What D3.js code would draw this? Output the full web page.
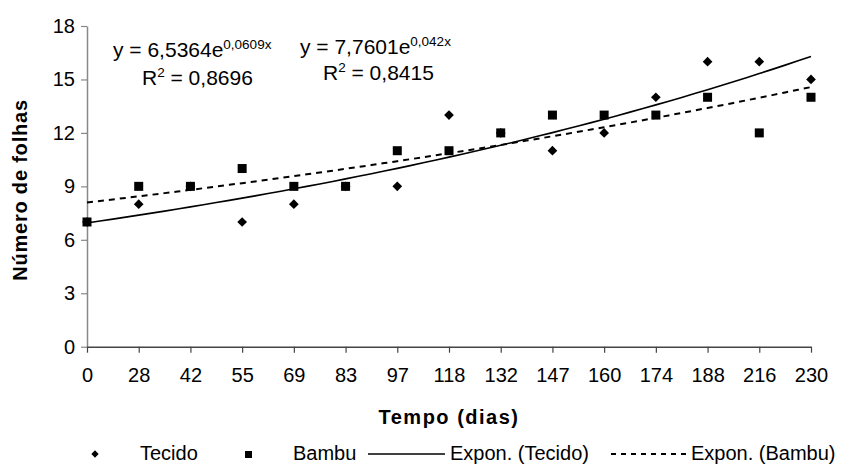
<!DOCTYPE html>
<html>
<head>
<meta charset="utf-8">
<script src="https://cdn.jsdelivr.net/npm/d3@7"></script>
<style>
  body { margin: 0; background: #fff; }
  svg { display: block; font-family: Arial, "Liberation Sans", sans-serif; }
</style>
</head>
<body>
<svg id="chart" width="846" height="465"></svg>
<script>
// dias de avaliação (categorias do eixo x)
let dias = ["0", "28", "42", "55", "69", "83", "97", "118", "132", "147", "160", "174", "188", "216", "230"];
let tecido = [7, 8, 9, 7, 8, 9, 9, 13, 12, 11, 12, 14, 16, 16, 15];
let bambu = [7, 9, 9, 10, 9, 9, 11, 11, 12, 13, 13, 13, 14, 12, 14];
let yTicks = [0, 3, 6, 9, 12, 15, 18];

let svg = d3.select("#chart");
let font = 'Arial, "Liberation Sans", sans-serif';

let x = d3.scalePoint().domain(dias).range([87, 811]);
let y = d3.scaleLinear().domain([0, 18]).range([346.7, 26]);
// posição do ponto pelo índice (1..n), como a linha de tendência do Excel
let xi = d3.scaleLinear().domain([1, dias.length]).range(x.range());

// ajuste exponencial y = a*e^(b*x) por mínimos quadrados em ln(y)
let expFit = (vals) => {
    let xs = vals.map((v, i) => i + 1);
    let ls = vals.map(v => Math.log(v));
    let mx = d3.mean(xs), ml = d3.mean(ls);
    let sxy = d3.sum(xs, (xv, i) => (xv - mx) * (ls[i] - ml));
    let sxx = d3.sum(xs, xv => (xv - mx) * (xv - mx));
    let b = sxy / sxx;
    let a = Math.exp(ml - b * mx);
    return {a: a, b: b};
};

// eixos
let yAxis = svg.append("g")
    .attr("transform", "translate(87,0)")
    .call(d3.axisLeft(y).tickValues(yTicks).tickSize(6).tickSizeOuter(0).tickPadding(6));
yAxis.select(".domain").attr("stroke", "#888").attr("stroke-width", 1.5);
yAxis.selectAll(".tick line").attr("stroke", "#888").attr("stroke-width", 1.2);
yAxis.selectAll(".tick text").style("font-family", font).style("font-size", "20px").attr("fill", "#000");

let xAxis = svg.append("g")
    .attr("transform", "translate(0,346.7)")
    .call(d3.axisBottom(x).tickSize(6).tickSizeOuter(0).tickPadding(15));
xAxis.select(".domain").attr("stroke", "#444").attr("stroke-width", 1.5);
xAxis.selectAll(".tick line").attr("stroke", "#444").attr("stroke-width", 1.2);
xAxis.selectAll(".tick text").style("font-family", font).style("font-size", "20px").attr("fill", "#000");

// linhas de tendência
let line = d3.line().x(d => xi(d[0])).y(d => y(d[1]));
let trend = (vals) => {
    let f = expFit(vals);
    return d3.range(1, vals.length + 0.001, 0.25).map(t => [t, f.a * Math.exp(f.b * t)]);
};

svg.append("path")
    .attr("d", line(trend(tecido)))
    .attr("fill", "none")
    .attr("stroke", "#000")
    .attr("stroke-width", 1.6);

svg.append("path")
    .attr("d", line(trend(bambu)))
    .attr("fill", "none")
    .attr("stroke", "#000")
    .attr("stroke-width", 2)
    .attr("stroke-dasharray", "6 5");

// marcadores
let diamond = d3.symbol().type(d3.symbolDiamond2).size(60);
svg.selectAll(".tec").data(tecido).enter().append("path")
    .attr("class", "tec")
    .attr("d", diamond)
    .attr("transform", (d, i) => "translate(" + x(dias[i]) + "," + y(d) + ")")
    .attr("fill", "#000");

svg.selectAll(".bam").data(bambu).enter().append("rect")
    .attr("class", "bam")
    .attr("x", (d, i) => x(dias[i]) - 4.5)
    .attr("y", d => y(d) - 4.5)
    .attr("width", 9)
    .attr("height", 9)
    .attr("fill", "#000");

// equações
let eq = (x0, y0, main, sup, x1, y1, r2) => {
    let t = svg.append("text").attr("x", x0).attr("y", y0)
        .style("font-family", font).style("font-size", "21px");
    t.append("tspan").text(main);
    t.append("tspan").attr("dy", -8).style("font-size", "13.5px").text(sup);
    let r = svg.append("text").attr("x", x1).attr("y", y1)
        .style("font-family", font).style("font-size", "21px");
    r.append("tspan").text("R");
    r.append("tspan").attr("dy", -8).style("font-size", "13.5px").text("2");
    r.append("tspan").attr("dy", 8).text(" = " + r2);
};
eq(113, 57, "y = 6,5364e", "0,0609x", 142, 85, "0,8696");
eq(300, 54, "y = 7,7601e", "0,042x", 323, 80, "0,8415");

// títulos dos eixos
svg.append("text")
    .attr("transform", "translate(27,190) rotate(-90)")
    .attr("text-anchor", "middle")
    .style("font-family", font).style("font-size", "20px").style("font-weight", "bold")
    .style("letter-spacing", "0.8px")
    .text("Número de folhas");

svg.append("text")
    .attr("x", 449).attr("y", 424)
    .attr("text-anchor", "middle")
    .style("font-family", font).style("font-size", "20px").style("font-weight", "bold")
    .style("letter-spacing", "1.5px")
    .text("Tempo (dias)");

// legenda
let lg = svg.append("g").style("font-family", font).style("font-size", "20px");
lg.append("path").attr("d", d3.symbol().type(d3.symbolDiamond2).size(34)).attr("transform", "translate(95,454)");
lg.append("text").attr("x", 140).attr("y", 460).text("Tecido");
lg.append("rect").attr("x", 245).attr("y", 451).attr("width", 7).attr("height", 7);
lg.append("text").attr("x", 293).attr("y", 460).text("Bambu");
lg.append("line").attr("x1", 368).attr("x2", 445).attr("y1", 454).attr("y2", 454).attr("stroke", "#000").attr("stroke-width", 1.6);
lg.append("text").attr("x", 450).attr("y", 460).text("Expon. (Tecido)");
lg.append("line").attr("x1", 611).attr("x2", 686).attr("y1", 454).attr("y2", 454).attr("stroke", "#000").attr("stroke-width", 2).attr("stroke-dasharray", "5 5");
lg.append("text").attr("x", 691).attr("y", 460).text("Expon. (Bambu)");
</script>
</body>
</html>
